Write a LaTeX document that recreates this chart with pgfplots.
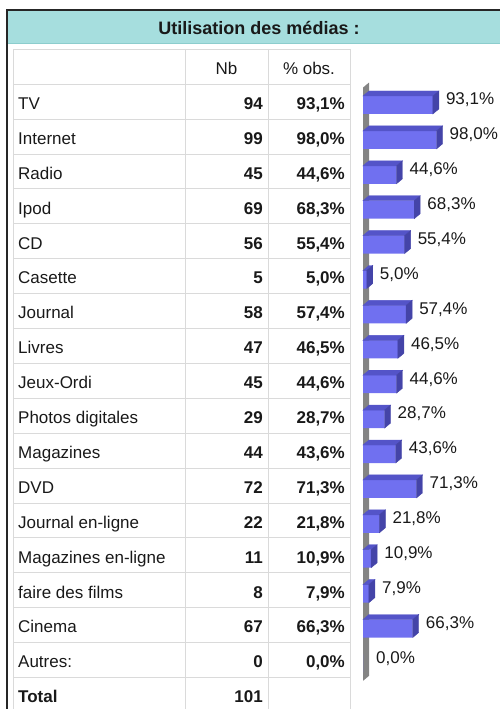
\documentclass[border=0pt]{standalone}
\usepackage{pgfplots}
\pgfplotsset{compat=1.18}
\usepackage{pgfplotstable}
\usepackage{fontspec}
\setmainfont{Liberation Sans}

\definecolor{titlebg}{RGB}{166,222,222}
\definecolor{titleline}{RGB}{140,205,205}
\definecolor{gridc}{RGB}{218,218,218}
\definecolor{barfront}{RGB}{112,112,240}
\definecolor{bartop}{RGB}{84,84,200}
\definecolor{barside}{RGB}{68,68,168}
\definecolor{wallc}{RGB}{132,132,132}
\definecolor{txt}{RGB}{25,25,25}

\pgfdeclareplotmark{nothing}{}

% % obs. per row (0 = TV ... 16 = Autres)
\pgfplotstableread{
row v
0 93.1
1 98.0
2 44.6
3 68.3
4 55.4
5 5.0
6 57.4
7 46.5
8 44.6
9 28.7
10 43.6
11 71.3
12 21.8
13 10.9
14 7.9
15 66.3
16 0.0
}\bars

\newcommand\fs{\fontsize{17}{20}\selectfont}
% one table line: index, label, Nb, % obs.
\newcommand\tabrow[4]{%
  \pgfmathsetmacro\ry{607.55-34.9*#1-8}
  \node[anchor=base west, inner sep=0pt, font=\fs, text=txt] at (18,\ry) {#2};
  \node[anchor=base east, inner sep=0pt, font=\fs\bfseries, text=txt] at (263,\ry) {#3};
  \node[anchor=base east, inner sep=0pt, font=\fs\bfseries, text=txt] at (345,\ry) {#4};
}

\begin{document}
\begin{tikzpicture}[x=1pt,y=1pt]
\useasboundingbox (0,0) rectangle (499,709);

% title band and frame
\fill[titlebg] (8,698) rectangle (510,666);
\draw[titleline] (8,666) -- (510,666);
\draw[line width=2pt, black!85] (7,-5) -- (7,698.5) -- (510,698.5);
\node[anchor=base, inner sep=0pt, font=\fontsize{18}{21}\selectfont\bfseries, text=txt] at (259,674) {Utilisation des médias :};

% table grid
\draw[gridc] (13,660) -- (350,660);
\foreach \k in {0,...,17} \draw[gridc] (13,{625-34.9*\k}) -- (350,{625-34.9*\k});
\foreach \xx in {13,185,268,350} \draw[gridc] (\xx,660) -- (\xx,-5);

% header
\node[anchor=base, inner sep=0pt, font=\fs, text=txt] at (226.5,634.5) {Nb};
\node[anchor=base, inner sep=0pt, font=\fs, text=txt] at (309,634.5) {\% obs.};

\tabrow{0}{TV}{94}{93,1\%}
\tabrow{1}{Internet}{99}{98,0\%}
\tabrow{2}{Radio}{45}{44,6\%}
\tabrow{3}{Ipod}{69}{68,3\%}
\tabrow{4}{CD}{56}{55,4\%}
\tabrow{5}{Casette}{5}{5,0\%}
\tabrow{6}{Journal}{58}{57,4\%}
\tabrow{7}{Livres}{47}{46,5\%}
\tabrow{8}{Jeux-Ordi}{45}{44,6\%}
\tabrow{9}{Photos digitales}{29}{28,7\%}
\tabrow{10}{Magazines}{44}{43,6\%}
\tabrow{11}{DVD}{72}{71,3\%}
\tabrow{12}{Journal en-ligne}{22}{21,8\%}
\tabrow{13}{Magazines en-ligne}{11}{10,9\%}
\tabrow{14}{faire des films}{8}{7,9\%}
\tabrow{15}{Cinema}{67}{66,3\%}
\tabrow{16}{Autres:}{0}{0,0\%}
\tabrow{17}{\bfseries Total}{101}{}

\begin{axis}[
  at={(363pt,621.45pt)}, anchor=north west,
  scale only axis, hide axis, clip=false,
  x=0.75pt, y=34.9pt,
  xmin=0, xmax=100, ymin=-0.5, ymax=16.5,
  y dir=reverse,
]
% back wall
\addplot[fill=wallc, draw=none] coordinates {(0,16.5) (0,-0.5) (8,-0.643) (8,16.357)} -- cycle;
% top and side faces
\addplot[
  only marks, scatter, mark=nothing,
  skip coords between index={16}{17},
  visualization depends on={rawx \as \len},
  scatter/@pre marker code/.code={%
    \fill[bartop] ({-\len*0.75pt},9pt) -- (0pt,9pt) -- (6pt,14pt) -- ({-\len*0.75pt+6pt},14pt) -- cycle;
    \fill[barside] (0pt,-9pt) -- (0pt,9pt) -- (6pt,14pt) -- (6pt,-4pt) -- cycle;
  },
  scatter/@post marker code/.code={},
] table[x=v, y=row] {\bars};
% front faces
\addplot[
  xbar, bar width=18pt, bar shift=0pt, fill=barfront, draw=none,
  point meta=x,
  nodes near coords={\pgfmathprintnumber[fixed,fixed zerofill,precision=1,use comma,assume math mode=true]{\pgfplotspointmeta}\%},
  every node near coord/.append style={font=\fontsize{17}{20}\selectfont, text=txt, anchor=west, inner sep=0pt, xshift=13pt, yshift=5pt},
] table[x=v, y=row] {\bars};
\end{axis}
\end{tikzpicture}
\end{document}
